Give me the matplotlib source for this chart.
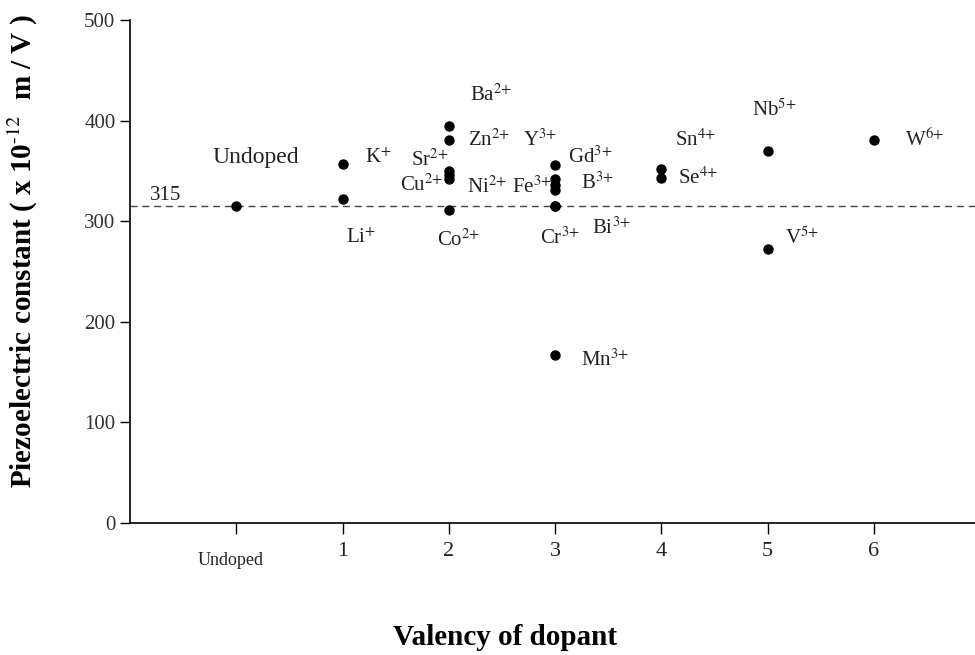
import matplotlib
matplotlib.use("Agg")
import matplotlib.pyplot as plt
import matplotlib.transforms as mtransforms

plt.rcParams['font.family'] = ['Liberation Serif', 'DejaVu Serif']
plt.rcParams['mathtext.fontset'] = 'stix'

# valency (0 = undoped) and piezoelectric constant d33 (x 10^-12 m/V)
dopants = ['Undoped', 'K+', 'Li+', 'Ba2+', 'Zn2+', 'Sr2+', 'Cu2+', 'Ni2+', 'Co2+',
           'Y3+', 'Gd3+', 'Fe3+', 'B3+', 'Cr3+', 'Bi3+', 'Mn3+',
           'Sn4+', 'Se4+', 'Nb5+', 'V5+', 'W6+']
valency = [0, 1, 1, 2, 2, 2, 2, 2, 2,
           3, 3, 3, 3, 3, 3, 3,
           4, 4, 5, 5, 6]
d33 = [315, 357, 322, 395, 381, 350, 346, 342, 311,
       356, 342, 336, 331, 315, 315, 167,
       352, 343, 370, 272, 381]
undoped_value = 315

x_ticks = [0, 1, 2, 3, 4, 5, 6]
x_ticklabels = ['Undoped', '1', '2', '3', '4', '5', '6']

# label text and where it sits (data coords, left / centre)
label_text = ['Undoped', 'K$^{\\text{+}}$', 'Li$^{\\text{+}}$', 'Ba$^{\\text{2+}}$',
              'Zn$^{\\text{2+}}$', 'Sr$^{\\text{2+}}$', 'Cu$^{\\text{2+}}$', 'Ni$^{\\text{2+}}$',
              'Co$^{\\text{2+}}$', 'Y$^{\\text{3+}}$', 'Gd$^{\\text{3+}}$', 'Fe$^{\\text{3+}}$',
              'B$^{\\text{3+}}$', 'Cr$^{\\text{3+}}$', 'Bi$^{\\text{3+}}$', 'Mn$^{\\text{3+}}$',
              'Sn$^{\\text{4+}}$', 'Se$^{\\text{4+}}$', 'Nb$^{\\text{5+}}$', 'V$^{\\text{5+}}$',
              'W$^{\\text{6+}}$']
label_x = [-0.22, 1.21, 1.03, 2.20, 2.18, 1.64, 1.54, 2.17, 1.89, 2.70, 3.12, 2.59,
           3.24, 2.86, 3.35, 3.24, 4.13, 4.16, 4.85, 5.16, 6.29]
label_y = [363, 363, 283, 425, 381, 361, 336, 334, 281, 381, 364, 334,
           338, 283, 293, 162, 381, 343, 410, 283, 381]

fig = plt.figure(figsize=(9.75, 6.55), dpi=100)
ax = fig.add_axes([0.1333, 0.2015, 0.8667, 0.768])

ax.axhline(undoped_value, color='#444444', ls=(0, (5, 3.5)), lw=1.0, zorder=1)
ax.scatter(valency, d33, s=42, color='black', zorder=3)

for t, x, y in zip(label_text, label_x, label_y):
    fs = 17 if t == 'Undoped' else 15
    ax.text(x, y, t, fontsize=fs, ha='left', va='center', color='#222222')

ax.text(-0.81, undoped_value + 1, str(undoped_value), fontsize=15, ha='left',
        va='bottom', color='#222222')

ax.set_xlim(-1, 6.95)
ax.set_ylim(0, 500)
ax.set_yticks([0, 100, 200, 300, 400, 500])
ax.set_xticks(x_ticks)
ax.set_xticklabels(x_ticklabels)
for lab in ax.get_xticklabels():
    lab.set_fontsize(16)
ax.tick_params(axis='y', labelsize=15, length=7, width=1, labelcolor='#333333')
ax.tick_params(axis='x', length=8, width=1, pad=6, labelcolor='#222222')

# "Undoped" tick label is smaller and sits a little lower
first = ax.get_xticklabels()[0]
first.set_fontsize(13)
first.set_transform(first.get_transform() +
                    mtransforms.ScaledTranslation(-4 / 72, -7 / 72, fig.dpi_scale_trans))

for s in ['top', 'right']:
    ax.spines[s].set_visible(False)
for s in ['left', 'bottom']:
    ax.spines[s].set_linewidth(1.2)

ax.set_ylabel('Piezoelectric constant ( x 10$^{\\text{-12}}$  m / V )', fontsize=21,
              fontweight='bold')
ax.yaxis.set_label_coords(-0.106, 0.54)
ax.set_xlabel('Valency of dopant', fontsize=21, fontweight='bold')
ax.xaxis.set_label_coords((505 - 130) / 845, -0.2)

fig.savefig('out.png', dpi=100)
